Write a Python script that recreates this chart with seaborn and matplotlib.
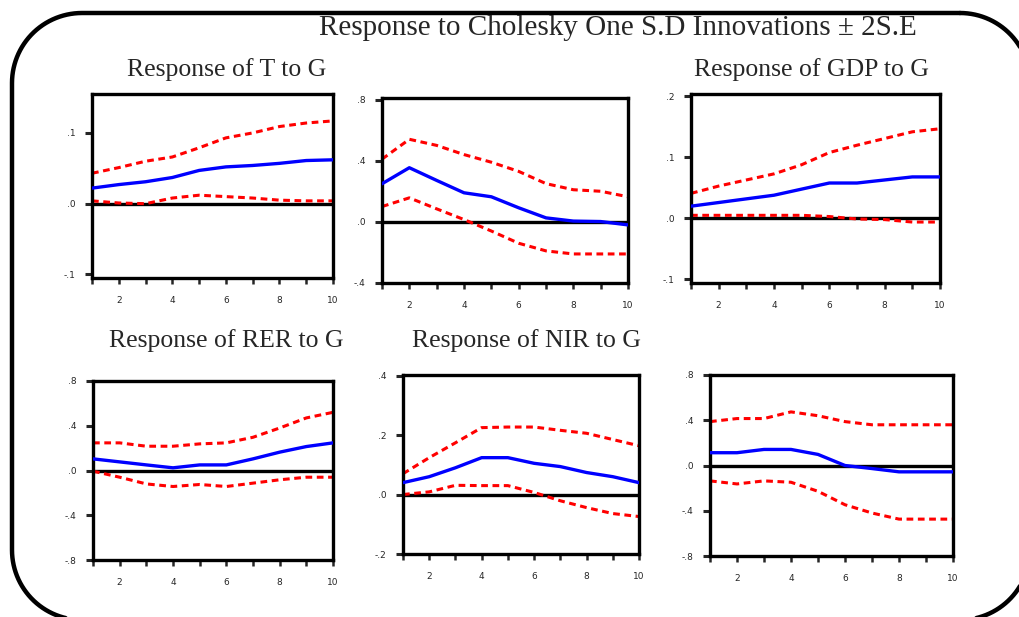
import numpy as np
import pandas as pd
import matplotlib
matplotlib.use("Agg")
import matplotlib.pyplot as plt
import seaborn as sns

sns.set_style("white")
plt.rcParams['font.family'] = ['Liberation Serif', 'DejaVu Serif']

periods = list(range(1, 11))

# Response of T to G
t_resp = [0.022, 0.027, 0.031, 0.037, 0.047, 0.052, 0.054, 0.057, 0.061, 0.062]
t_up = [0.043, 0.051, 0.060, 0.066, 0.079, 0.093, 0.100, 0.109, 0.114, 0.117]
t_lo = [0.004, 0.001, 0.000, 0.008, 0.012, 0.010, 0.008, 0.005, 0.004, 0.004]

# second panel (untitled)
p2_resp = [0.249, 0.354, 0.271, 0.190, 0.164, 0.092, 0.026, 0.005, 0.002, -0.020]
p2_up = [0.41, 0.54, 0.50, 0.44, 0.39, 0.33, 0.25, 0.21, 0.20, 0.164]
p2_lo = [0.10, 0.157, 0.085, 0.015, -0.06, -0.14, -0.19, -0.21, -0.21, -0.21]

# Response of GDP to G
gdp_resp = [0.020, 0.026, 0.032, 0.038, 0.048, 0.058, 0.058, 0.063, 0.068, 0.068]
gdp_up = [0.041, 0.053, 0.063, 0.073, 0.088, 0.108, 0.120, 0.131, 0.142, 0.147]
gdp_lo = [0.005, 0.005, 0.005, 0.005, 0.005, 0.003, -0.001, -0.002, -0.006, -0.006]

# Response of RER to G
rer_resp = [0.104, 0.077, 0.050, 0.024, 0.050, 0.050, 0.104, 0.164, 0.214, 0.247]
rer_up = [0.247, 0.247, 0.217, 0.217, 0.238, 0.247, 0.297, 0.380, 0.470, 0.520]
rer_lo = [-0.006, -0.060, -0.120, -0.143, -0.125, -0.143, -0.113, -0.083, -0.060, -0.060]

# Response of NIR to G
nir_resp = [0.040, 0.060, 0.090, 0.124, 0.124, 0.105, 0.094, 0.074, 0.060, 0.040]
nir_up = [0.070, 0.124, 0.174, 0.225, 0.227, 0.227, 0.216, 0.206, 0.185, 0.164]
nir_lo = [0.000, 0.009, 0.031, 0.030, 0.030, 0.007, -0.021, -0.044, -0.064, -0.074]

# sixth panel (untitled)
p6_resp = [0.113, 0.113, 0.142, 0.142, 0.098, 0.000, -0.027, -0.056, -0.056, -0.056]
p6_up = [0.388, 0.415, 0.415, 0.474, 0.440, 0.388, 0.360, 0.360, 0.360, 0.360]
p6_lo = [-0.136, -0.163, -0.136, -0.148, -0.228, -0.347, -0.420, -0.474, -0.474, -0.474]

W, H = 1019, 617

panels = [
    # (left, right, top, bottom) in px, ylim, yticks, ytick labels, series
    ((92, 333, 94, 278), (-0.105, 0.155), [-0.1, 0.0, 0.1], ['-.1', '.0', '.1'],
     (t_resp, t_up, t_lo)),
    ((382, 628, 98, 283), (-0.4, 0.81), [-0.4, 0.0, 0.4, 0.8], ['-.4', '.0', '.4', '.8'],
     (p2_resp, p2_up, p2_lo)),
    ((691, 940, 94, 283), (-0.106, 0.204), [-0.1, 0.0, 0.1, 0.2], ['-.1', '.0', '.1', '.2'],
     (gdp_resp, gdp_up, gdp_lo)),
    ((93, 333, 381, 560), (-0.8, 0.8), [-0.8, -0.4, 0.0, 0.4, 0.8], ['-.8', '-.4', '.0', '.4', '.8'],
     (rer_resp, rer_up, rer_lo)),
    ((403, 639, 375, 554), (-0.2, 0.402), [-0.2, 0.0, 0.2, 0.4], ['-.2', '.0', '.2', '.4'],
     (nir_resp, nir_up, nir_lo)),
    ((710, 953, 375, 556), (-0.8, 0.8), [-0.8, -0.4, 0.0, 0.4, 0.8], ['-.8', '-.4', '.0', '.4', '.8'],
     (p6_resp, p6_up, p6_lo)),
]

fig = plt.figure(figsize=(W / 100, H / 100), dpi=100)

# background axes in pixel units (y from the top), holds the rounded frame
bg = fig.add_axes([0, 0, 1, 1], zorder=-1)
bg.set_xlim(0, W)
bg.set_ylim(H, 0)
bg.axis('off')
fl, fr, ft, fb, rad = 12, 1030, 13, 620, 70
corners = [  # centre x, centre y, start angle, end angle (degrees, y down)
    (fr - rad, ft + rad, -90, 0),
    (fr - rad, fb - rad, 0, 90),
    (fl + rad, fb - rad, 90, 180),
    (fl + rad, ft + rad, 180, 270),
]
fx, fy = [], []
for cx, cy, a0, a1 in corners:
    ang = np.radians(np.linspace(a0, a1, 30))
    fx.extend(cx + rad * np.cos(ang))
    fy.extend(cy + rad * np.sin(ang))
fx.append(fx[0])
fy.append(fy[0])
bg.plot(fx, fy, color='black', lw=3.2, solid_capstyle='round', clip_on=False)

for (l, r, t, b), ylim, yticks, ylabels, (resp, up, lo) in panels:
    ax = fig.add_axes([l / W, 1 - b / H, (r - l) / W, (b - t) / H])
    df = pd.DataFrame({'period': periods, 'resp': resp, 'up': up, 'lo': lo})
    ax.axhline(0, color='black', lw=2.4, zorder=1)
    sns.lineplot(data=df, x='period', y='up', ax=ax, color='#ff0000', lw=2.2,
                 linestyle=(0, (2.2, 1.5)), zorder=2)
    sns.lineplot(data=df, x='period', y='lo', ax=ax, color='#ff0000', lw=2.2,
                 linestyle=(0, (2.2, 1.5)), zorder=2)
    sns.lineplot(data=df, x='period', y='resp', ax=ax, color='#0000ff', lw=2.4, zorder=3)
    ax.set_xlim(1, 10)
    ax.set_ylim(*ylim)
    ax.set_xlabel('')
    ax.set_ylabel('')
    ax.set_xticks(periods, minor=True)
    ax.set_xticks([2, 4, 6, 8, 10])
    ax.set_xticklabels(['2', '4', '6', '8', '10'], fontsize=6.5, family='DejaVu Sans')
    ax.set_yticks(yticks)
    ax.set_yticklabels(ylabels, fontsize=6.5, family='DejaVu Sans')
    ax.tick_params(axis='x', which='both', direction='out', length=4, width=1.8,
                   pad=9, bottom=True)
    ax.tick_params(axis='y', direction='out', length=5, width=2.2, pad=7, left=True)
    for s in ax.spines.values():
        s.set_linewidth(2.4)
        s.set_color('black')
    ax.grid(False)

fig.text(618 / W, 1 - 28 / H, 'Response to Cholesky One S.D Innovations \u00b1 2S.E',
         ha='center', va='center', fontsize=21)
titles = [
    (227, 70, 'Response of T to G'),
    (812, 70, 'Response of GDP to G'),
    (226, 341, 'Response of RER to G'),
    (526, 341, 'Response of NIR to G'),
]
for x, y, txt in titles:
    fig.text(x / W, 1 - y / H, txt, ha='center', va='center', fontsize=18.5)

fig.savefig('out.png', dpi=100)
